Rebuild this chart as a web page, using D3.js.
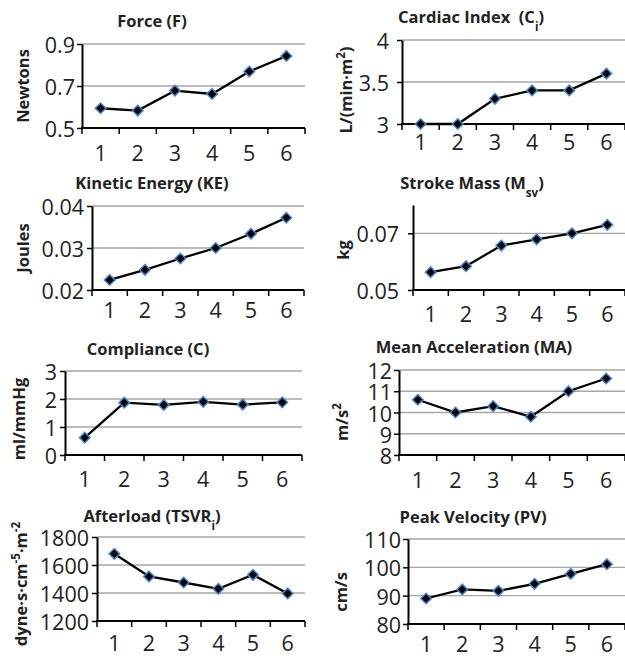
<!DOCTYPE html>
<html>
<head>
<meta charset="utf-8">
<script src="https://cdn.jsdelivr.net/npm/d3@7"></script>
<style>
  body { margin: 0; background: #fff; }
  text { font-family: "Open Sans", sans-serif; }
</style>
</head>
<body>
<div id="chart"></div>
<script>
// data
var categories = [1, 2, 3, 4, 5, 6];

var forceValues = [0.594, 0.583, 0.678, 0.662, 0.769, 0.843];
var cardiacValues = [3.0, 3.0, 3.3, 3.4, 3.4, 3.6];
var keValues = [0.0224, 0.0248, 0.0275, 0.0300, 0.0334, 0.0372];
var strokeMassValues = [0.0563, 0.0584, 0.0657, 0.0679, 0.0700, 0.0730];
var complianceValues = [0.62, 1.87, 1.79, 1.90, 1.80, 1.88];
var accelValues = [10.6, 10.0, 10.3, 9.8, 11.0, 11.6];
var afterloadValues = [1680, 1518, 1475, 1430, 1530, 1397];
var velocityValues = [89.0, 92.2, 91.7, 94.2, 97.7, 101.1];

var forceTicks = [0.5, 0.7, 0.9];
var cardiacTicks = [3, 3.5, 4];
var keTicks = [0.02, 0.03, 0.04];
var strokeMassTicks = [0.05, 0.07];
var complianceTicks = [0, 1, 2, 3];
var accelTicks = [8, 9, 10, 11, 12];
var afterloadTicks = [1200, 1400, 1600, 1800];
var velocityTicks = [80, 90, 100, 110];

var strokeMassDomain = [0.05, 0.08];

// titles / axis labels as [text, "sub"|"sup"|""] pieces
var titles = [
  [["Force (F)", ""]],
  [["Cardiac Index \u00a0(C", ""], ["i", "sub"], [")", ""]],
  [["Kinetic Energy (KE)", ""]],
  [["Stroke Mass (M", ""], ["sv", "sub"], [")", ""]],
  [["Compliance (C)", ""]],
  [["Mean Acceleration (MA)", ""]],
  [["Afterload (TSVR", ""], ["i", "sub"], [")", ""]],
  [["Peak Velocity (PV)", ""]]
];
var yLabels = [
  [["Newtons", ""]],
  [["L/(min\u00b7m", ""], ["2", "sup"], [")", ""]],
  [["Joules", ""]],
  [["kg", ""]],
  [["ml/mmHg", ""]],
  [["m/s", ""], ["2", "sup"]],
  [["dyne\u00b7s\u00b7cm", ""], ["-5", "sup"], ["\u00b7m", ""], ["-2", "sup"]],
  [["cm/s", ""]]
];

var panelValues = [forceValues, cardiacValues, keValues, strokeMassValues,
  complianceValues, accelValues, afterloadValues, velocityValues];
var panelTicks = [forceTicks, cardiacTicks, keTicks, strokeMassTicks,
  complianceTicks, accelTicks, afterloadTicks, velocityTicks];

// pixel layout of each panel
var layout = [
  {x0: 82,  x1: 305, yTop: 44,  yBot: 128, tx: 152, ty: 27,  lx: 23,  ly: 86,  xl: 161, gap: 7},
  {x0: 402, x1: 625, yTop: 40,  yBot: 124, tx: 471, ty: 23,  lx: 346, ly: 90,  xl: 150, gap: 13},
  {x0: 92,  x1: 304, yTop: 206, yBot: 290, tx: 152, ty: 189, lx: 23,  ly: 248, xl: 318, gap: 8},
  {x0: 413, x1: 625, yTop: 205, yBot: 290, tx: 472, ty: 189, lx: 343, ly: 250, xl: 322, gap: 14},
  {x0: 65,  x1: 302, yTop: 371, yBot: 455, tx: 148, ty: 355, lx: 19,  ly: 419, xl: 487, gap: 8},
  {x0: 399, x1: 625, yTop: 370, yBot: 455, tx: 474, ty: 353, lx: 342, ly: 422, xl: 488, gap: 7},
  {x0: 97,  x1: 305, yTop: 537, yBot: 621, tx: 152, ty: 522, lx: 21,  ly: 584, xl: 651, gap: 8},
  {x0: 408, x1: 625, yTop: 539, yBot: 624, tx: 473, ty: 523, lx: 341, ly: 592, xl: 652, gap: 7}
];

var svg = d3.select("#chart").append("svg")
  .attr("width", 625)
  .attr("height", 659);

function addPieces(textSel, pieces) {
  pieces.forEach(function (p) {
    var t = textSel.append("tspan").text(p[0]);
    if (p[1] == "sub") t.attr("baseline-shift", "sub").attr("font-size", "70%");
    if (p[1] == "sup") t.attr("baseline-shift", "super").attr("font-size", "70%");
  });
}

var diamond = "M0,-5.3L5.3,0L0,5.3L-5.3,0Z";

for (var i = 0; i < 8; i++) {
  var L = layout[i];
  var values = panelValues[i];
  var ticks = panelTicks[i];
  var domain = (i == 3) ? strokeMassDomain : d3.extent(ticks);

  var x = d3.scaleBand().domain(categories).range([L.x0, L.x1]);
  var y = d3.scaleLinear().domain(domain).range([L.yBot, L.yTop]);
  var g = svg.append("g");

  // gridlines
  g.selectAll(".grid")
    .data(ticks.filter(function (t) { return t > domain[0]; }))
    .enter().append("line")
    .attr("x1", L.x0).attr("x2", L.x1)
    .attr("y1", function (d) { return y(d); })
    .attr("y2", function (d) { return y(d); })
    .attr("stroke", "#a6a6a6")
    .attr("stroke-width", 1.4);

  // y axis
  var yAxis = g.append("g")
    .attr("transform", "translate(" + L.x0 + ",0)")
    .call(d3.axisLeft(y).tickValues(ticks).tickSize(5).tickSizeOuter(0)
      .tickPadding(L.gap - 5)
      .tickFormat(function (d) { return String(d); }));
  yAxis.select(".domain").attr("stroke", "#000").attr("stroke-width", 2);
  yAxis.selectAll(".tick line").attr("stroke", "#000").attr("stroke-width", 1.5);
  yAxis.selectAll(".tick text")
    .attr("font-size", 21.5).attr("fill", "#222")
    .attr("font-family", "Open Sans, sans-serif")
    .attr("dy", "0.4em");

  // x axis: line, boundary ticks, centred labels
  g.append("line")
    .attr("x1", L.x0 - 1).attr("x2", L.x1)
    .attr("y1", L.yBot).attr("y2", L.yBot)
    .attr("stroke", "#000").attr("stroke-width", 2);
  var bounds = categories.map(function (c) { return x(c); }).concat([L.x1]);
  g.selectAll(".xtick").data(bounds).enter().append("line")
    .attr("x1", function (d) { return d; })
    .attr("x2", function (d) { return d; })
    .attr("y1", L.yBot).attr("y2", L.yBot + 6)
    .attr("stroke", "#000").attr("stroke-width", 1.5);
  g.selectAll(".xlab").data(categories).enter().append("text")
    .attr("x", function (d) { return x(d) + x.bandwidth() / 2; })
    .attr("y", L.xl)
    .attr("text-anchor", "middle")
    .attr("font-size", 21.5).attr("fill", "#222")
    .text(function (d) { return d; });

  // line + markers
  var pts = categories.map(function (c, k) { return [x(c) + x.bandwidth() / 2, y(values[k])]; });
  g.append("path")
    .datum(pts)
    .attr("fill", "none")
    .attr("stroke", "#000")
    .attr("stroke-width", 2.3)
    .attr("d", d3.line());
  g.selectAll(".pt").data(pts).enter().append("path")
    .attr("d", diamond)
    .attr("transform", function (d) { return "translate(" + d[0] + "," + d[1] + ")"; })
    .attr("fill", "#000")
    .attr("stroke", "#4a86c8")
    .attr("stroke-width", 1.5);

  // title
  var title = g.append("text")
    .attr("x", L.tx).attr("y", L.ty)
    .attr("text-anchor", "middle")
    .attr("font-size", 16.5).attr("font-weight", "bold").attr("fill", "#222");
  addPieces(title, titles[i]);

  // y label
  var ylab = g.append("text")
    .attr("transform", "translate(" + L.lx + "," + L.ly + ") rotate(-90)")
    .attr("text-anchor", "middle")
    .attr("dy", "0.36em")
    .attr("font-size", 16.5).attr("font-weight", "bold").attr("fill", "#222");
  addPieces(ylab, yLabels[i]);
}
</script>
</body>
</html>
